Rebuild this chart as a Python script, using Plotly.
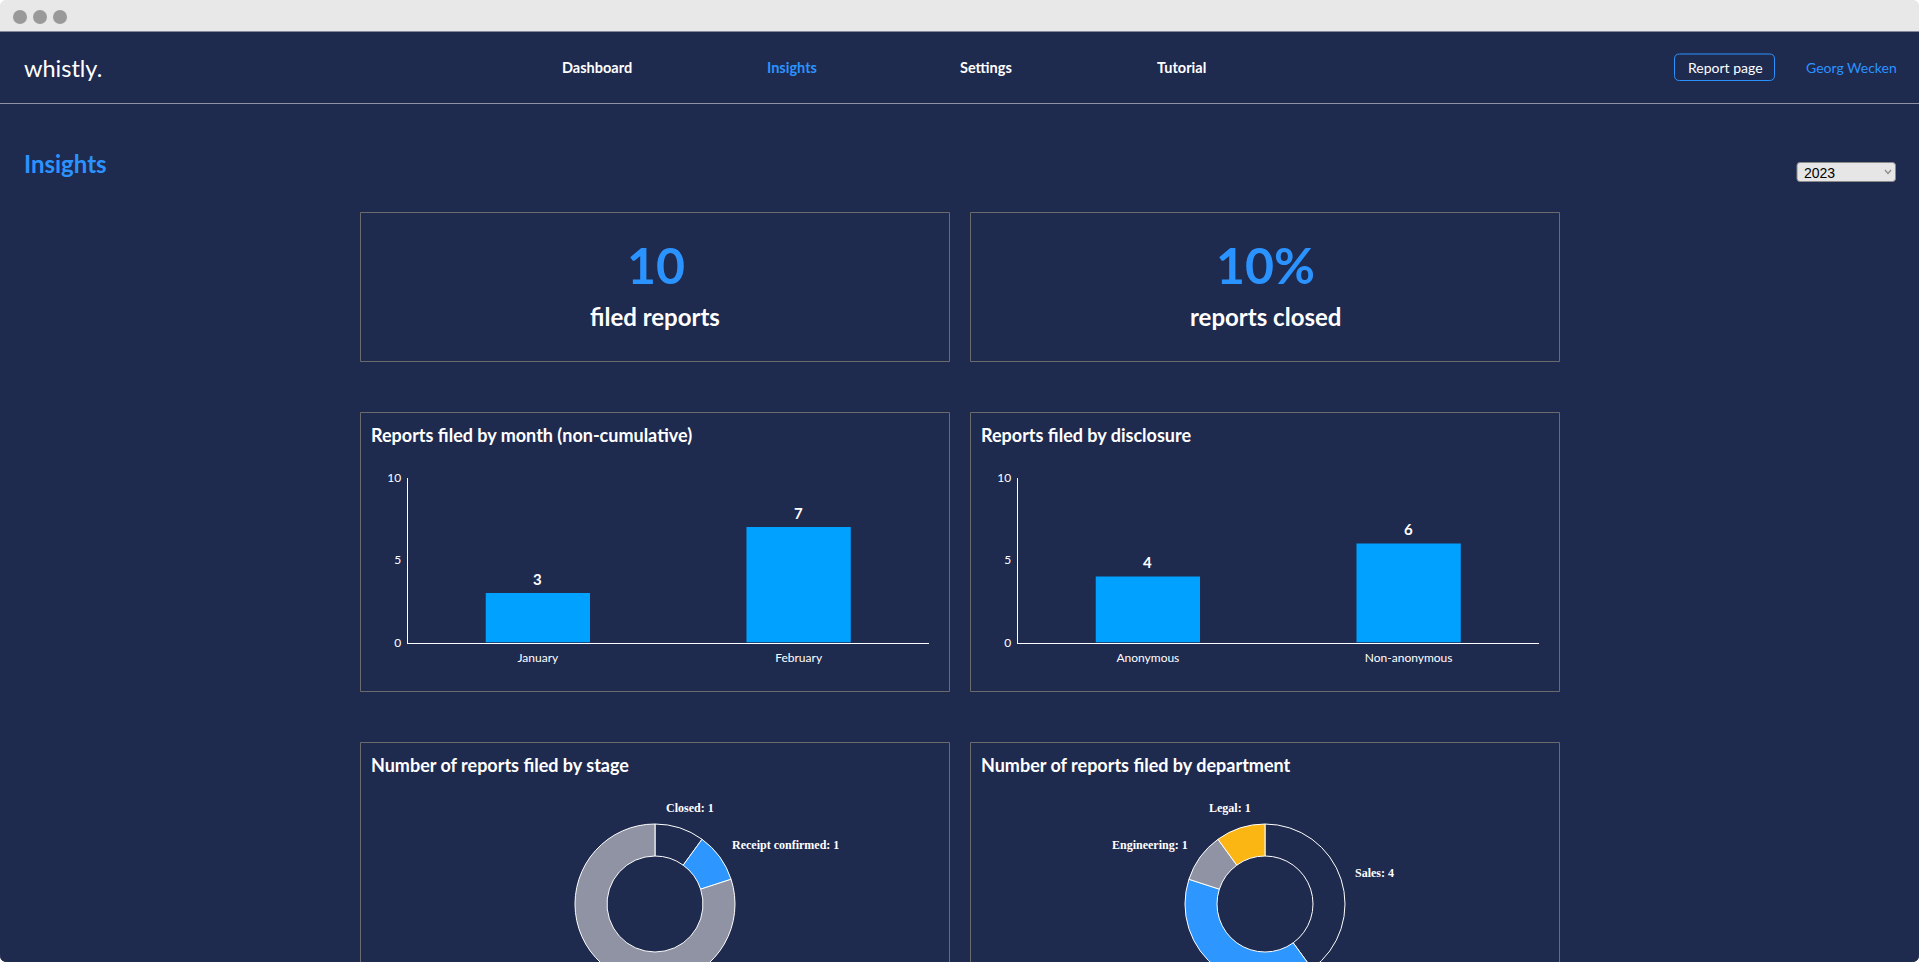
"""Insights dashboard page rebuilt as one Plotly figure."""

import math

import plotly.graph_objects as go

W, H = 1919, 1000  # taller than the window so the donuts run off the bottom
VIEW_H = 962

NAVY = "#1f2a4f"
BLUE = "#2b93ff"
RING_BLUE = "#2d97ff"
BAR_BLUE = "#00a1ff"
GRAY = "#8f93a3"
YELLOW = "#fbb614"
CARD_LINE = "#6b6b6b"

nav_labels = ["Dashboard", "Insights", "Settings", "Tutorial"]
months = ["January", "February"]
month_counts = [3, 7]
disclosure = ["Anonymous", "Non-anonymous"]
disclosure_counts = [4, 6]
stages = ["Closed", "Receipt confirmed", "Open"]
stage_counts = [1, 1, 8]
stage_shown = [True, True, False]
departments = ["Sales", "Marketing", "Engineering", "Legal"]
department_counts = [4, 4, 1, 1]
department_shown = [True, False, True, True]
y_ticks = [0, 5, 10]


def px_x(x):
    return x / W


def px_y(y):
    return 1 - y / H


def text(x, y, s, size, color="white", anchor="center", family="Lato", weight=400):
    fig.add_annotation(
        x=px_x(x), y=px_y(y), xref="paper", yref="paper", text=s, showarrow=False,
        xanchor=anchor, yanchor="middle", borderpad=0,
        font=dict(family=family, size=size, color=color, weight=weight),
    )


def rect(x0, y0, x1, y1, line=CARD_LINE, fill=None, width=1):
    fig.add_shape(
        type="rect", xref="paper", yref="paper",
        x0=px_x(x0), x1=px_x(x1), y0=px_y(y0), y1=px_y(y1),
        line=dict(color=line, width=width), fillcolor=fill, layer="below",
    )


def rounded(x0, y0, x1, y1, r, line, fill, top=True, bottom=True):
    rt, rb = (r if top else 0), (r if bottom else 0)
    path = (
        f"M {px_x(x0 + rt)} {px_y(y0)} L {px_x(x1 - rt)} {px_y(y0)} "
        f"Q {px_x(x1)} {px_y(y0)} {px_x(x1)} {px_y(y0 + rt)} "
        f"L {px_x(x1)} {px_y(y1 - rb)} Q {px_x(x1)} {px_y(y1)} {px_x(x1 - rb)} {px_y(y1)} "
        f"L {px_x(x0 + rb)} {px_y(y1)} Q {px_x(x0)} {px_y(y1)} {px_x(x0)} {px_y(y1 - rb)} "
        f"L {px_x(x0)} {px_y(y0 + rt)} Q {px_x(x0)} {px_y(y0)} {px_x(x0 + rt)} {px_y(y0)} Z"
    )
    fig.add_shape(
        type="path", xref="paper", yref="paper", path=path,
        line=dict(color=line, width=1), fillcolor=fill, layer="below",
    )


def donut_labels(labels, counts, shown, cx, cy=904, reach=101):
    # labels sit just outside the ring at each slice's middle angle
    total = sum(counts)
    start = 0
    for label, count, show in zip(labels, counts, shown):
        mid = math.radians((start + count / 2) / total * 360)
        start += count
        if not show:
            continue
        dx = reach * math.sin(mid)
        y = cy - reach * math.cos(mid)
        if abs(dx) < 50:
            text(cx + dx * 1.12, y, f"{label}: {count}", 12, family="Liberation Serif", weight=700)
        else:
            text(cx + dx * 0.93, y, f"{label}: {count}", 12, anchor="left" if dx > 0 else "right",
                 family="Liberation Serif", weight=700)


fig = go.Figure()

# page chrome
rounded(0, 0, W, 60, 8, "#e8e8e8", "#e8e8e8", bottom=False)
rounded(0, 32, W, VIEW_H, 8, NAVY, NAVY, top=False)
for cx in (20, 40, 60):
    fig.add_shape(
        type="circle", xref="paper", yref="paper", layer="below",
        x0=px_x(cx - 7), x1=px_x(cx + 7), y0=px_y(10), y1=px_y(24),
        line=dict(width=0), fillcolor="#9a9a9a",
    )
fig.add_shape(
    type="line", xref="paper", yref="paper", layer="below",
    x0=0, x1=1, y0=px_y(103.5), y1=px_y(103.5), line=dict(color=GRAY, width=1),
)

text(23, 68, "whistly.", 23.5, anchor="left")
for label, cx in zip(nav_labels, [597, 791.5, 986, 1181]):
    text(cx, 67.5, label, 14.5, color=BLUE if label == "Insights" else "white", weight=700)
rounded(1674.5, 54, 1774.5, 80.5, 5, BLUE, None)
text(1725, 67.5, "Report page", 14)
text(1851, 67.5, "Georg Wecken", 14, color=BLUE)
text(23, 163.5, "Insights", 24, color=BLUE, anchor="left", weight=700)

# year select
rounded(1797, 162.5, 1895.5, 181.5, 3, "#8a8a8a", "#e6e6e6")
text(1802.5, 173, "2023", 14, color="black", anchor="left", family="Liberation Sans")
fig.add_shape(
    type="path", xref="paper", yref="paper", layer="below", line=dict(color="#8a8a8a", width=1.2),
    path=f"M {px_x(1885)} {px_y(170)} L {px_x(1888)} {px_y(173.5)} L {px_x(1891)} {px_y(170)}",
)

# cards
card_cols = [(360.5, 949.5), (970.5, 1559.5)]
for x0, x1 in card_cols:
    rect(x0, 212.5, x1, 361.5)
    rect(x0, 412.5, x1, 691.5)
    rect(x0, 742.5, x1, 1100)

text(655.5, 265, "10", 50, color=BLUE, weight=700)
text(655, 316.5, "filed reports", 24, weight=700)
text(1265.5, 265, "10%", 50, color=BLUE, weight=700)
text(1265, 316.5, "reports closed", 24, weight=700)

text(370, 435, "Reports filed by month (non-cumulative)", 18, anchor="left", weight=700)
text(980, 435, "Reports filed by disclosure", 18, anchor="left", weight=700)
text(370, 765, "Number of reports filed by stage", 18, anchor="left", weight=700)
text(980, 765, "Number of reports filed by department", 18, anchor="left", weight=700)

# bar charts
fig.add_bar(x=months, y=month_counts, xaxis="x", yaxis="y")
fig.add_bar(x=disclosure, y=disclosure_counts, xaxis="x2", yaxis="y2")
fig.update_traces(
    selector=dict(type="bar"), marker=dict(color=BAR_BLUE, line=dict(width=0)), hoverinfo="x+y",
)
for cats, counts, xref, yref in [
    (months, month_counts, "x", "y"),
    (disclosure, disclosure_counts, "x2", "y2"),
]:
    for cat, count in zip(cats, counts):
        fig.add_annotation(
            x=cat, y=count, xref=xref, yref=yref, text=str(count), showarrow=False,
            yanchor="middle", yshift=14.5,
            font=dict(family="Lato", size=15, color="white", weight=700),
        )

axis_font = dict(family="Lato", size=12, color="white")
x_axis = dict(
    type="category", showgrid=False, zeroline=False, showline=True, linecolor="white",
    linewidth=1, ticks="", tickfont=axis_font, ticklabelstandoff=4, automargin=False,
)
y_axis = dict(
    range=[0, 10], tickvals=y_ticks, showgrid=False, zeroline=False, showline=True,
    linecolor="white", linewidth=1, ticks="", tickfont=axis_font, ticklabelstandoff=3,
    automargin=False,
)
y_domain = [px_y(642.5), px_y(477.5)]

# donuts
for labels, counts, shown, colors, cx in [
    (stages, stage_counts, stage_shown, [NAVY, RING_BLUE, GRAY], 655),
    (departments, department_counts, department_shown, [NAVY, RING_BLUE, GRAY, YELLOW], 1265),
]:
    fig.add_pie(
        labels=labels, values=counts, textinfo="none", hole=0.6, sort=False,
        direction="clockwise", rotation=0, automargin=False,
        marker=dict(colors=colors, line=dict(color="white", width=1)),
        domain=dict(x=[px_x(cx - 80), px_x(cx + 80)], y=[px_y(984), px_y(824)]),
        showlegend=False,
    )
    donut_labels(labels, counts, shown, cx)

fig.update_layout(
    width=W, height=H, margin=dict(l=0, r=0, t=0, b=0, pad=0),
    paper_bgcolor="white", plot_bgcolor="rgba(0,0,0,0)", showlegend=False, bargap=0.6,
    xaxis=dict(domain=[px_x(407.5), px_x(929)], **x_axis),
    yaxis=dict(domain=y_domain, **y_axis),
    xaxis2=dict(domain=[px_x(1017.5), px_x(1539)], anchor="y2", **x_axis),
    yaxis2=dict(domain=y_domain, anchor="x2", **y_axis),
)

page_fix = "document.body.style.margin='0';document.body.style.overflow='hidden';"
fig.write_html("out.html", post_script=page_fix, config=dict(displayModeBar=False))
